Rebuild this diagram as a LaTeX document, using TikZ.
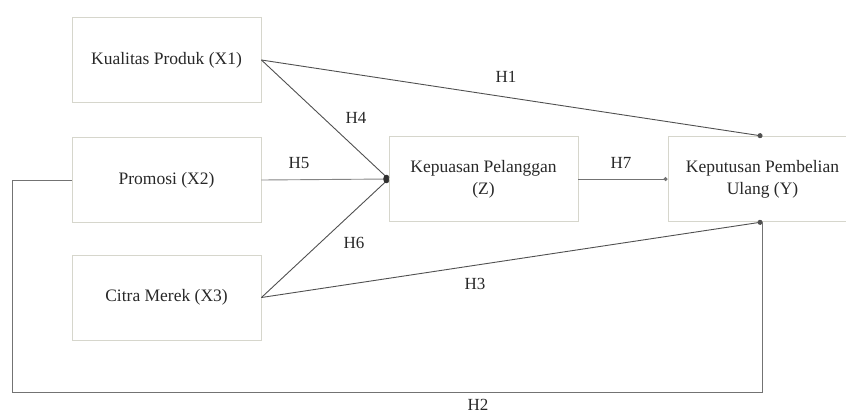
\documentclass[tikz,border=0pt]{standalone}
\usepackage{fontspec}
\setmainfont{Liberation Serif}
\usetikzlibrary{arrows.meta}
\definecolor{boxline}{RGB}{214,214,204}
\definecolor{conn}{RGB}{80,80,80}
\definecolor{txt}{RGB}{40,40,40}
\begin{document}
\begin{tikzpicture}[x=1pt,y=-1pt,
  varbox/.style={draw=boxline,line width=0.9pt,minimum width=189pt,minimum height=85pt,
    inner sep=0pt,align=center,text=txt,font=\fontsize{17.5}{22}\selectfont},
  link/.style={draw=conn,line width=0.9pt},
  tipdot/.style={-{Circle[length=5pt,width=5pt]}},
  hlab/.style={text=txt,font=\fontsize{17}{20}\selectfont,inner sep=0pt}]
\useasboundingbox (0,0) rectangle (846,416);
\begin{scope}
\clip (0,0) rectangle (846,416);
\node[varbox] (X1) at (166.5,60) {Kualitas Produk (X1)};
\node[varbox] (X2) at (166.5,180) {Promosi (X2)};
\node[varbox] (X3) at (166.5,297.5) {Citra Merek (X3)};
\node[varbox] (Z) at (483.5,179) {Kepuasan Pelanggan\\(Z)};
\node[varbox] (Y) at (762.5,179) {Keputusan Pembelian\\Ulang (Y)};
\coordinate (loopL) at (12,392);
\draw[link,tipdot] (X1.east) -- (Y.north);
\draw[link,tipdot] (X1.east) -- (Z.west);
\draw[link,tipdot,draw=conn!70] (X2.east) -- (Z.west);
\draw[link,tipdot] (X3.east) -- (Z.west);
\draw[link,tipdot] (X3.east) -- (Y.south);
\fill[conn!60!black] ([xshift=-2.5pt]Z.west) ellipse (2.8pt and 4.2pt);
\draw[link,-{Circle[length=4pt,width=4pt]},draw=conn!80] (Z.east) -- (Y.west);
\draw[link,draw=conn!80] (X2.west) -| (loopL) -| (Y.south);
\node[hlab] (h1) at (506,77) {H1};
\node[hlab] (h4) at (356,118) {H4};
\node[hlab] (h5) at (299,163) {H5};
\node[hlab] (h6) at (354,243) {H6};
\node[hlab] (h7) at (621,163) {H7};
\node[hlab] (h3) at (475,284) {H3};
\node[hlab] (h2) at (478,405) {H2};
\end{scope}
\end{tikzpicture}
\end{document}
